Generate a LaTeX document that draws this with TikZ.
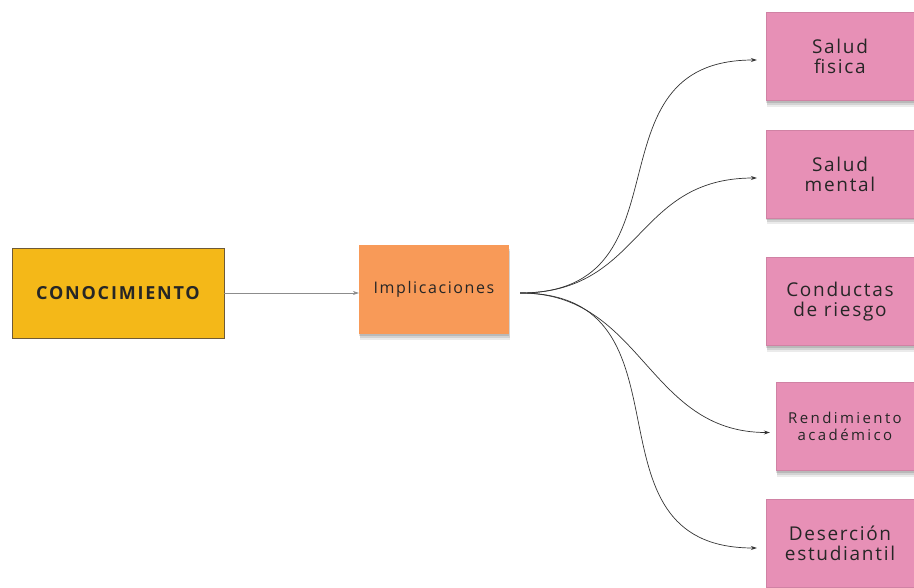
\documentclass[tikz,border=0pt]{standalone}
\usepackage{fontspec}
\setmainfont{Open Sans}
\newfontfamily\effectfont[LetterSpace=9]{Open Sans}
\newfontfamily\widefont[LetterSpace=16]{Open Sans}
\newfontfamily\midfont[LetterSpace=10]{Open Sans}
\newfontfamily\headfont[LetterSpace=10]{Open Sans}
\usepackage{xcolor}
\usepackage{tikz}
\usetikzlibrary{arrows.meta, positioning, calc, shadows}

\definecolor{goldbox}{RGB}{244,184,24}
\definecolor{goldedge}{RGB}{110,90,55}
\definecolor{orangebox}{RGB}{248,154,88}
\definecolor{pinkbox}{RGB}{231,144,182}

\begin{document}
\begin{tikzpicture}[x=1pt, y=-1pt,
        box/.style={rectangle, inner sep=0pt, align=center, text=black!85},
        softshadow/.style={
            drop shadow={shadow xshift=1pt, shadow yshift=-6pt, opacity=0.08, fill=black},
            drop shadow={shadow xshift=1pt, shadow yshift=-4pt, opacity=0.10, fill=black},
            drop shadow={shadow xshift=0pt, shadow yshift=-2pt, opacity=0.12, fill=black}},
        source/.style={box, fill=goldbox, draw=goldedge, line width=0.8pt, minimum width=212pt, minimum height=90pt, font={\headfont\bfseries\fontsize{18}{18}\selectfont}},
        impl/.style={box, softshadow, fill=orangebox, minimum width=150pt, minimum height=89pt, font={\midfont\fontsize{16}{16}\selectfont}},
        effect/.style={box, softshadow, fill=pinkbox, draw=pinkbox!90!black, line width=0.4pt, minimum width=148pt, minimum height=88pt, font={\effectfont\fontsize{19}{20}\selectfont}},
        link/.style={-{Stealth[length=6pt, width=4pt]}, draw=black!45, line width=0.6pt},
        branch/.style={-{Stealth[length=6pt, width=4pt]}, draw=black!80, line width=0.7pt, out=0, in=180, looseness=1.35}
    ]
    \useasboundingbox (0,0) rectangle (914,587);

    % Boxes
    \node[source] (conoc) at (118,293) {CONOCIMIENTO};
    \node[impl] (implic) at (434,289) {Implicaciones};

    \node[effect] (fisica) at (840,56.5) {Salud\\fisica};
    \node[effect] (mental) at (840,174) {Salud\\mental};
    \node[effect] (riesgo) at (840,301.5) {Conductas\\de riesgo};
    \node[effect, minimum width=138pt, font={\widefont\fontsize{15}{17}\selectfont}] (rendim) at (845,426.5) {Rendimiento\\académico};
    \node[effect] (desercion) at (840,543) {Deserción\\estudiantil};

    % Arrows
    \draw[link] (conoc.east) -- (conoc.east -| implic.west);

    \coordinate (fork) at ([xshift=11pt, yshift=-4pt]implic.east);
    \draw[branch] (fork) to ([xshift=-9pt, yshift=-3.5pt]fisica.west);
    \draw[branch, looseness=1.2] (fork) to ([xshift=-9pt, yshift=-4pt]mental.west);
    \draw[branch, looseness=1.1] (fork) to ([xshift=-6pt, yshift=-6pt]rendim.west);
    \draw[branch] (fork) to ([xshift=-9pt, yshift=-5pt]desercion.west);

\end{tikzpicture}
\end{document}
